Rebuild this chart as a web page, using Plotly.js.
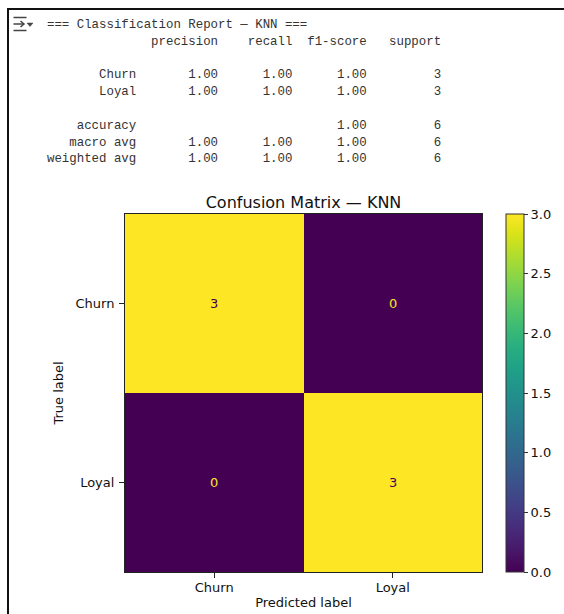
<!DOCTYPE html>
<html><head><meta charset="utf-8">
<script src="https://cdn.plot.ly/plotly-3.0.1.min.js"></script>
<style>html,body{margin:0;padding:0;background:#fff;}#chart{width:564px;height:614px;}</style>
</head><body><div id="chart"></div>
<script>
// ---- data ----
const reportTitle = '=== Classification Report — KNN ===';
const classes = ['Churn', 'Loyal'];
const predictedLabels = ['Churn', 'Loyal'];
const matrix = [[3, 0], [0, 3]];
const precision = [1.00, 1.00];
const recall = [1.00, 1.00];
const f1score = [1.00, 1.00];
const support = [3, 3];
const accuracy = 1.00;
const macroAvg = [1.00, 1.00, 1.00];
const weightedAvg = [1.00, 1.00, 1.00];
const totalSupport = 6;
const colorbarTicks = [0, 0.5, 1.0, 1.5, 2.0, 2.5, 3.0];

// ---- geometry helpers (pixel -> paper) ----
const W = 564, H = 614;
const M = {l: 125, r: 82, t: 214, b: 42};
const PW = W - M.l - M.r, PH = H - M.t - M.b;
const px = x => (x - M.l) / PW;
const py = y => 1 - (y - M.t) / PH;

// ---- build text report like sklearn ----
const width = 12;
const rp = (s, n) => String(s).padStart(n, ' ');
const f2 = v => v.toFixed(2);
const lines = [];
lines.push(reportTitle);
lines.push(rp('', width) + ' ' + ' ' + rp('precision', 9) + ' ' + rp('recall', 9) + ' ' + rp('f1-score', 9) + ' ' + rp('support', 9));
lines.push('');
classes.forEach((c, i) => {
  lines.push(rp(c, width) + ' ' + ' ' + rp(f2(precision[i]), 9) + ' ' + rp(f2(recall[i]), 9) + ' ' + rp(f2(f1score[i]), 9) + ' ' + rp(support[i], 9));
});
lines.push('');
lines.push(rp('accuracy', width) + ' ' + ' ' + rp('', 9) + ' ' + rp('', 9) + ' ' + rp(f2(accuracy), 9) + ' ' + rp(totalSupport, 9));
lines.push(rp('macro avg', width) + ' ' + ' ' + rp(f2(macroAvg[0]), 9) + ' ' + rp(f2(macroAvg[1]), 9) + ' ' + rp(f2(macroAvg[2]), 9) + ' ' + rp(totalSupport, 9));
lines.push(rp('weighted avg', width) + ' ' + ' ' + rp(f2(weightedAvg[0]), 9) + ' ' + rp(f2(weightedAvg[1]), 9) + ' ' + rp(f2(weightedAvg[2]), 9) + ' ' + rp(totalSupport, 9));

const annotations = [];
lines.forEach((ln, i) => {
  if (!ln.trim()) return;
  annotations.push({
    xref: 'paper', yref: 'paper', x: px(45), y: py(25 + i * 16.8),
    xanchor: 'left', yanchor: 'middle', showarrow: false,
    text: ln.replace(/ /g, '\u00a0'),
    font: {family: 'Liberation Mono, DejaVu Sans Mono, monospace', size: 12.4, color: '#333'}
  });
});

// cell value labels
let zmax = -Infinity, zmin = Infinity;
matrix.forEach(r => r.forEach(v => { zmax = Math.max(zmax, v); zmin = Math.min(zmin, v); }));
const thresh = (zmax + zmin) / 2;
matrix.forEach((row, i) => row.forEach((v, j) => {
  annotations.push({
    xref: 'x', yref: 'y', x: predictedLabels[j], y: classes[i],
    text: String(v), showarrow: false,
    font: {family: 'DejaVu Sans', size: 13, color: v >= thresh ? '#440154' : '#fde725'}
  });
}));

// frame + output icon
const shapes = [
  {type: 'line', xref: 'paper', yref: 'paper', x0: px(8), x1: px(566), y0: py(9), y1: py(9), line: {color: '#111', width: 2}},
  {type: 'line', xref: 'paper', yref: 'paper', x0: px(8), x1: px(8), y0: py(8), y1: py(620), line: {color: '#111', width: 2}},
  {type: 'line', xref: 'paper', yref: 'paper', x0: px(13.5), x1: px(26.5), y0: py(17.5), y1: py(17.5), line: {color: '#444', width: 1.5}},
  {type: 'line', xref: 'paper', yref: 'paper', x0: px(13.5), x1: px(26.5), y0: py(30.5), y1: py(30.5), line: {color: '#444', width: 1.5}},
  {type: 'line', xref: 'paper', yref: 'paper', x0: px(13.5), x1: px(23.5), y0: py(24), y1: py(24), line: {color: '#444', width: 1.5}},
  {type: 'path', xref: 'paper', yref: 'paper',
   path: `M ${px(20.5)} ${py(21)} L ${px(24)} ${py(24)} L ${px(20.5)} ${py(27)}`,
   line: {color: '#444', width: 1.5}},
  {type: 'path', xref: 'paper', yref: 'paper',
   path: `M ${px(27)} ${py(23)} L ${px(33)} ${py(23)} L ${px(30)} ${py(26.5)} Z`,
   fillcolor: '#444', line: {color: '#444', width: 0.5}}
];

const trace = {
  type: 'heatmap',
  x: predictedLabels, y: classes, z: matrix,
  colorscale: 'Viridis', zmin: 0, zmax: 3,
  hoverinfo: 'skip',
  colorbar: {
    x: px(505.7), xanchor: 'left', xpad: 0, ypad: 0,
    y: 0.5, yanchor: 'middle', len: 1, lenmode: 'fraction',
    thickness: 18, outlinewidth: 1, outlinecolor: '#333',
    tickvals: colorbarTicks, ticktext: colorbarTicks.map(v => v.toFixed(1)),
    ticks: 'outside', ticklen: 4, tickcolor: '#333',
    tickfont: {family: 'DejaVu Sans', size: 13, color: '#111'}
  }
};

const axisCommon = {
  ticks: 'outside', ticklen: 5, tickcolor: '#222',
  showline: true, mirror: true, linecolor: '#222', linewidth: 1,
  showgrid: false, zeroline: false,
  tickfont: {family: 'DejaVu Sans', size: 13, color: '#111'}
};

const layout = {
  width: W, height: H,
  margin: M,
  paper_bgcolor: '#fff', plot_bgcolor: '#fff',
  font: {family: 'DejaVu Sans', color: '#111'},
  title: {text: 'Confusion Matrix — KNN', x: 0.5, xref: 'paper', xanchor: 'center',
          y: 1 - 202 / H, yref: 'container', yanchor: 'middle',
          font: {family: 'DejaVu Sans', size: 16, color: '#111'}},
  xaxis: Object.assign({}, axisCommon, {
    ticklabelstandoff: -2,
    title: {text: 'Predicted label', font: {family: 'DejaVu Sans', size: 13, color: '#111'}, standoff: 4}
  }),
  yaxis: Object.assign({}, axisCommon, {
    autorange: 'reversed',
    ticklabelstandoff: 2,
    title: {text: 'True label', font: {family: 'DejaVu Sans', size: 13, color: '#111'}, standoff: 8}
  }),
  annotations: annotations,
  shapes: shapes,
  showlegend: false
};

Plotly.newPlot('chart', [trace], layout, {displayModeBar: false, staticPlot: true});
</script>
</body></html>
